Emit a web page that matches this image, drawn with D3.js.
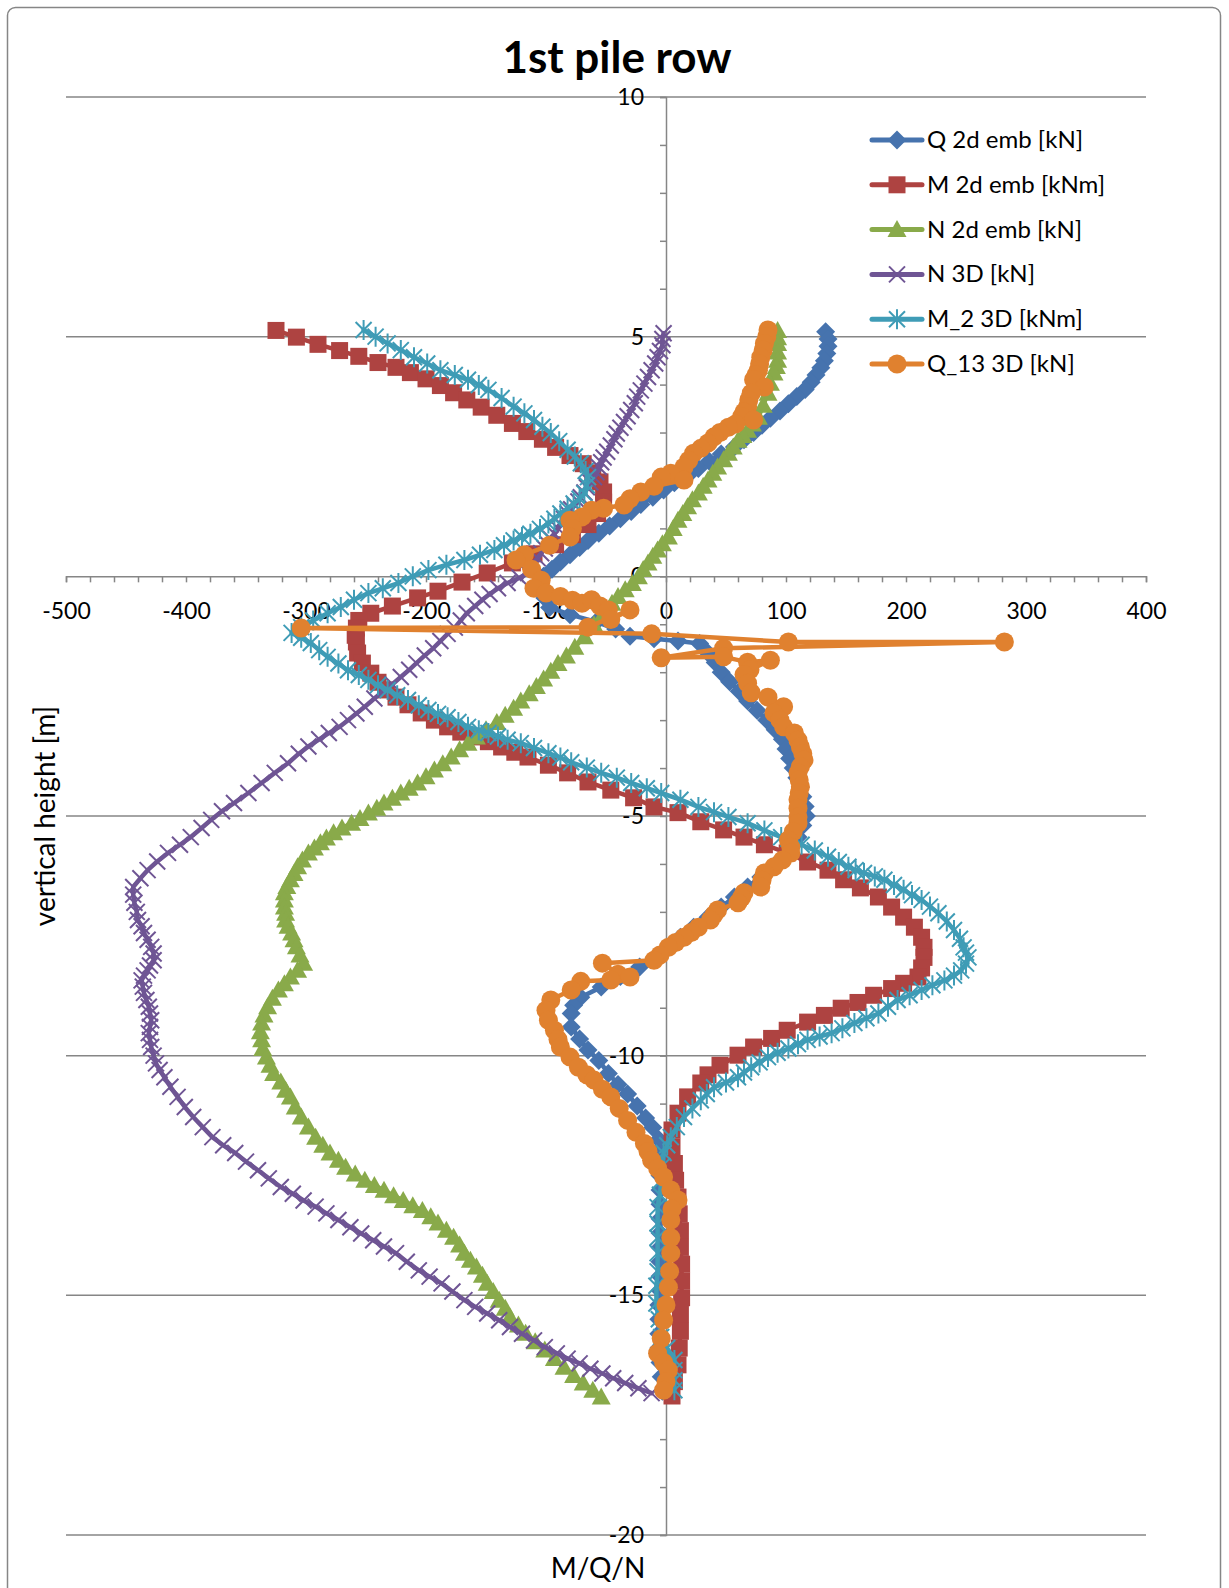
<!DOCTYPE html>
<html>
<head>
<meta charset="utf-8">
<script src="https://cdn.jsdelivr.net/npm/d3@7"></script>
<style>
  body { margin: 0; background: #ffffff; }
  svg { display: block; }
  text { font-family: Lato, "Open Sans", sans-serif; fill: #000; }
</style>
</head>
<body>
<svg id="chart" width="1229" height="1588"></svg>
<script>
// ---- chart data: depth [m] and force / moment values for each result series ----
const seriesNames = ["Q 2d emb [kN]", "M 2d emb [kNm]", "N 2d emb [kN]", "N 3D [kN]", "M_2 3D [kNm]", "Q_13 3D [kN]"];

const qEmbDepth = [5.10,4.95,4.80,4.65,4.50,4.35,4.20,4.05,3.90,3.75,3.60,3.45,3.30,3.15,3.00,2.85,2.70,2.55,2.40,2.25,2.10,1.95,1.80,1.65,1.50,1.35,1.20,1.05,0.90,0.75,0.60,0.45,0.30,0.15,0.00,-0.20,-0.45,-0.65,-0.80,-0.95,-1.10,-1.25,-1.30,-1.35,-1.40,-1.60,-1.80,-2.00,-2.20,-2.40,-2.60,-2.80,-3.00,-3.20,-3.40,-3.60,-3.80,-4.00,-4.20,-4.40,-4.60,-4.80,-5.00,-5.20,-5.44,-5.60,-5.77,-5.92,-6.06,-6.27,-6.48,-6.69,-6.90,-7.11,-7.32,-7.53,-7.74,-7.95,-8.15,-8.35,-8.57,-8.78,-8.95,-9.12,-9.40,-9.65,-9.88,-10.10,-10.37,-10.60,-10.80,-11.05,-11.30,-11.50,-11.75,-11.95,-12.20,-12.50,-12.80,-13.10,-13.40,-13.70,-14.00,-14.30,-14.60,-14.90,-15.20,-15.50,-15.80,-16.10,-16.40,-16.70,-17.00];
const qEmbValue = [133,135,135,134,132,129,125,121,116,109,102,95,87,80,73,65,57,46,36,27,18,7,-2,-11,-21,-29,-38,-47,-56,-65,-72,-80,-88,-95,-102,-104,-101,-97,-80,-58,-42,-30,-10,10,28,35,41,46,53,61,68,76,84,91,97,100,103,106,109,112,114,116,117,114,110,106,101,95,90,79,68,57,46,35,23,12,2,-8,-22,-38,-54,-71,-77,-79,-79,-72,-65,-56,-48,-40,-32,-24,-17,-11,-6,-4,-4,-5,-5,-5,-5,-5,-5,-5,-5,-5,-6,-6,-6,-6,-5,-4,-3];

const mEmbDepth = [5.13,4.99,4.84,4.71,4.59,4.46,4.36,4.25,4.12,3.98,3.83,3.68,3.53,3.36,3.19,3.02,2.86,2.69,2.52,2.35,2.16,1.97,1.76,1.55,1.31,1.08,0.87,0.66,0.47,0.28,0.07,-0.12,-0.31,-0.45,-0.62,-0.77,-0.92,-1.08,-1.23,-1.37,-1.60,-1.81,-2.02,-2.21,-2.37,-2.52,-2.68,-2.85,-3.00,-3.14,-3.25,-3.35,-3.45,-3.56,-3.67,-3.77,-3.94,-4.10,-4.29,-4.46,-4.62,-4.81,-4.93,-5.12,-5.29,-5.44,-5.60,-5.77,-5.96,-6.13,-6.33,-6.50,-6.69,-6.90,-7.11,-7.32,-7.53,-7.74,-7.95,-8.17,-8.36,-8.49,-8.60,-8.74,-8.89,-9.01,-9.16,-9.30,-9.47,-9.64,-9.82,-9.99,-10.20,-10.40,-10.57,-10.86,-11.20,-11.55,-11.90,-12.25,-12.60,-12.95,-13.30,-13.65,-14.00,-14.35,-14.70,-15.05,-15.40,-15.75,-16.10,-16.45,-16.80,-17.10];
const mEmbValue = [-325,-308,-290,-272,-256,-240,-225,-213,-200,-188,-177,-166,-154,-141,-128,-116,-103,-92,-80,-69,-61,-55,-52,-52,-57,-65,-78,-92,-110,-128,-149,-170,-190,-207,-228,-246,-256,-258,-259,-258,-257,-253,-246,-240,-233,-225,-215,-204,-193,-182,-171,-160,-148,-137,-126,-115,-98,-82,-65,-46,-27,-10,10,29,48,65,82,101,118,135,148,162,177,188,198,207,213,215,215,213,210,198,188,173,160,146,132,118,101,88,73,60,45,35,29,18,10,5,5,7,8,10,11,12,12,13,13,13,12,12,11,10,7,5];

const nEmbDepth = [5.13,4.98,4.86,4.68,4.51,4.38,4.24,4.03,3.82,3.57,3.32,3.18,3.05,2.94,2.84,2.70,2.57,2.43,2.28,2.15,2.01,1.88,1.74,1.60,1.45,1.31,1.17,1.00,0.82,0.68,0.55,0.42,0.28,0.14,-0.01,-0.15,-0.28,-0.42,-0.56,-0.77,-1.01,-1.26,-1.48,-1.66,-1.82,-1.98,-2.14,-2.30,-2.45,-2.60,-2.75,-2.90,-3.05,-3.20,-3.35,-3.48,-3.62,-3.77,-3.91,-4.04,-4.18,-4.31,-4.42,-4.52,-4.63,-4.73,-4.84,-4.94,-5.05,-5.15,-5.25,-5.35,-5.46,-5.56,-5.67,-5.77,-5.92,-6.06,-6.20,-6.33,-6.47,-6.60,-6.75,-6.90,-7.03,-7.17,-7.30,-7.44,-7.58,-7.73,-7.90,-8.07,-8.22,-8.36,-8.50,-8.63,-8.80,-8.98,-9.15,-9.32,-9.50,-9.67,-9.85,-10.03,-10.20,-10.37,-10.55,-10.72,-10.86,-11.07,-11.28,-11.49,-11.70,-11.87,-12.03,-12.18,-12.33,-12.47,-12.60,-12.71,-12.81,-12.92,-13.02,-13.13,-13.23,-13.36,-13.49,-13.64,-13.79,-13.95,-14.12,-14.27,-14.41,-14.58,-14.75,-14.92,-15.10,-15.27,-15.45,-15.62,-15.79,-15.97,-16.14,-16.32,-16.50,-16.67,-16.83,-16.98,-17.12];
const nEmbValue = [93,93,93,93,93,92,90,87,85,81,77,72,68,64,60,56,52,48,43,39,35,31,27,22,18,14,10,6,2,-3,-7,-11,-15,-19,-23,-28,-34,-40,-45,-52,-60,-68,-76,-83,-90,-96,-102,-108,-114,-121,-127,-134,-141,-150,-158,-165,-172,-179,-186,-193,-200,-207,-214,-221,-228,-235,-241,-248,-255,-262,-270,-277,-283,-288,-293,-298,-303,-307,-310,-313,-316,-318,-318,-318,-317,-317,-315,-312,-310,-308,-305,-302,-307,-313,-318,-323,-328,-332,-335,-337,-338,-337,-336,-333,-330,-327,-321,-317,-313,-309,-304,-298,-292,-286,-280,-273,-267,-259,-251,-243,-235,-227,-219,-211,-203,-196,-190,-183,-177,-172,-168,-163,-158,-153,-149,-144,-139,-134,-130,-123,-117,-109,-101,-93,-85,-77,-69,-61,-54];

const n3dDepth = [5.07,4.95,4.82,4.70,4.57,4.44,4.30,4.16,4.02,3.88,3.75,3.61,3.47,3.34,3.22,3.10,2.98,2.86,2.73,2.60,2.48,2.38,2.28,2.17,2.07,1.96,1.86,1.75,1.65,1.56,1.48,1.40,1.31,1.20,1.10,1.00,0.89,0.78,0.68,0.58,0.48,0.38,0.27,0.17,0.07,-0.03,-0.14,-0.25,-0.37,-0.49,-0.62,-0.77,-0.92,-1.07,-1.20,-1.35,-1.50,-1.65,-1.81,-1.95,-2.10,-2.25,-2.40,-2.55,-2.72,-2.86,-3.00,-3.14,-3.27,-3.40,-3.55,-3.70,-3.90,-4.10,-4.31,-4.52,-4.73,-4.90,-5.08,-5.25,-5.44,-5.60,-5.77,-5.95,-6.13,-6.30,-6.48,-6.64,-6.81,-7.00,-7.17,-7.30,-7.44,-7.58,-7.73,-7.87,-8.01,-8.12,-8.22,-8.33,-8.43,-8.56,-8.69,-8.84,-8.98,-9.12,-9.26,-9.40,-9.53,-9.67,-9.82,-10.00,-10.16,-10.30,-10.45,-10.65,-10.86,-11.07,-11.28,-11.49,-11.70,-11.87,-12.03,-12.21,-12.39,-12.56,-12.74,-12.88,-13.02,-13.15,-13.29,-13.43,-13.58,-13.71,-13.85,-13.98,-14.12,-14.30,-14.48,-14.61,-14.75,-14.92,-15.10,-15.24,-15.38,-15.52,-15.66,-15.80,-15.94,-16.08,-16.21,-16.32,-16.42,-16.53,-16.63,-16.73,-16.83,-16.94,-17.04];
const n3dValue = [-2,-3,-3,-5,-7,-9,-12,-15,-18,-21,-24,-26,-29,-32,-35,-38,-41,-43,-46,-49,-52,-54,-56,-58,-60,-63,-66,-68,-71,-73,-76,-79,-82,-85,-88,-90,-93,-96,-99,-101,-104,-107,-110,-112,-115,-122,-132,-140,-147,-153,-159,-166,-171,-176,-182,-188,-194,-201,-208,-214,-221,-228,-236,-243,-251,-258,-265,-272,-281,-289,-298,-306,-315,-326,-337,-348,-360,-370,-379,-387,-396,-405,-415,-424,-432,-438,-444,-444,-443,-441,-440,-437,-435,-432,-429,-427,-427,-430,-432,-435,-437,-436,-435,-433,-431,-430,-429,-430,-431,-430,-429,-427,-425,-422,-418,-413,-407,-401,-394,-386,-378,-369,-359,-350,-340,-331,-321,-311,-302,-292,-283,-273,-263,-254,-244,-235,-225,-216,-206,-197,-187,-178,-168,-159,-149,-139,-130,-120,-110,-101,-91,-82,-72,-63,-53,-44,-34,-23,-12];

const m2Depth = [5.14,5.00,4.86,4.72,4.57,4.44,4.30,4.20,4.10,3.99,3.89,3.72,3.54,3.40,3.26,3.12,2.99,2.82,2.64,2.50,2.36,2.20,2.07,1.90,1.73,1.62,1.52,1.41,1.31,1.20,1.10,0.99,0.89,0.82,0.75,0.65,0.55,0.45,0.34,0.24,0.13,0.00,-0.14,-0.25,-0.35,-0.49,-0.64,-0.77,-0.92,-1.06,-1.18,-1.28,-1.39,-1.54,-1.68,-1.82,-1.96,-2.06,-2.16,-2.27,-2.37,-2.48,-2.58,-2.69,-2.79,-2.87,-2.94,-3.04,-3.14,-3.21,-3.27,-3.34,-3.41,-3.48,-3.58,-3.69,-3.78,-3.88,-3.99,-4.10,-4.20,-4.31,-4.42,-4.52,-4.66,-4.81,-4.92,-5.02,-5.15,-5.30,-5.44,-5.52,-5.60,-5.72,-5.85,-5.96,-6.06,-6.13,-6.19,-6.26,-6.33,-6.44,-6.54,-6.65,-6.75,-6.89,-7.03,-7.20,-7.38,-7.56,-7.74,-7.85,-7.95,-8.08,-8.22,-8.33,-8.43,-8.53,-8.63,-8.74,-8.84,-8.98,-9.12,-9.22,-9.32,-9.43,-9.53,-9.60,-9.67,-9.76,-9.85,-9.94,-10.03,-10.14,-10.24,-10.35,-10.45,-10.56,-10.66,-10.80,-10.93,-11.10,-11.28,-11.49,-11.70,-11.87,-12.03,-12.30,-12.60,-12.90,-13.16,-13.50,-13.80,-14.12,-14.50,-14.80,-15.17,-15.50,-15.87,-16.10,-16.35,-16.56,-16.77,-16.98];
const m2Value = [-252,-242,-232,-221,-210,-199,-188,-176,-165,-156,-148,-137,-127,-118,-110,-103,-96,-89,-82,-76,-71,-67,-65,-66,-68,-72,-77,-82,-88,-93,-98,-105,-113,-120,-127,-135,-143,-155,-168,-183,-198,-211,-223,-236,-248,-260,-271,-282,-294,-304,-312,-304,-296,-289,-282,-273,-265,-256,-248,-240,-232,-224,-215,-206,-198,-190,-182,-173,-165,-156,-148,-140,-132,-121,-110,-98,-88,-79,-66,-54,-41,-29,-16,-4,12,27,40,52,68,82,96,104,113,124,135,144,152,158,165,174,182,190,198,205,213,220,227,234,240,245,248,250,252,250,246,240,232,222,213,203,193,185,177,167,157,147,138,128,118,110,102,93,85,78,71,65,60,50,40,34,29,22,15,9,4,1,-2,-3,-4,-5,-7,-7,-7,-7,-7,-8,-8,-6,-4,1,7,7,7,7];

const q13Depth = [5.14,5.00,4.86,4.72,4.57,4.43,4.30,4.20,4.10,3.95,3.82,3.68,3.54,3.43,3.33,3.26,3.18,3.11,3.00,2.91,2.78,2.67,2.57,2.42,2.28,2.15,2.07,2.01,1.88,1.76,1.62,1.49,1.42,1.38,1.24,1.17,1.00,0.82,0.65,0.45,0.34,0.15,-0.08,-0.25,-0.35,-0.42,-0.50,-0.56,-0.49,-0.62,-0.70,-0.90,-0.70,-1.06,-1.08,-1.20,-1.37,-1.37,-1.50,-1.70,-1.68,-1.79,-1.75,-1.95,-2.05,-2.23,-2.43,-2.52,-2.72,-2.85,-3.00,-3.14,-3.27,-3.42,-3.56,-3.70,-3.83,-3.97,-4.10,-4.25,-4.39,-4.52,-4.66,-4.84,-5.02,-5.15,-5.33,-5.50,-5.65,-5.77,-5.92,-6.06,-6.19,-6.34,-6.48,-6.60,-6.70,-6.81,-6.96,-7.06,-7.17,-7.32,-7.43,-7.53,-7.64,-7.74,-7.90,-8.01,-8.07,-8.30,-8.36,-8.42,-8.45,-8.63,-8.84,-9.05,-9.26,-9.47,-9.66,-9.82,-10.03,-10.24,-10.40,-10.51,-10.70,-10.86,-11.10,-11.35,-11.60,-11.83,-12.00,-12.18,-12.35,-12.53,-12.80,-13.01,-13.20,-13.43,-13.80,-14.12,-14.50,-14.83,-15.20,-15.52,-15.90,-16.21,-16.40,-16.56,-16.80,-16.98];
const q13Value = [85,84,82,81,79,78,77,75,73,82,71,69,68,65,63,73,58,52,45,40,35,29,23,19,15,4,-4,15,-10,-21,-30,-35,-52,-62,-70,-80,-78,-80,-97,-118,-125,-112,-104,-110,-100,-88,-78,-70,-62,-55,-48,-46,-30,-65,-304,-12,102,282,48,-4,48,68,87,70,65,68,71,85,98,90,95,98,107,110,112,114,115,112,110,111,112,111,110,110,110,110,106,102,104,104,97,90,82,80,79,65,63,60,43,40,37,27,21,15,8,2,-5,-10,-53,-40,-30,-46,-71,-79,-96,-100,-98,-93,-90,-88,-80,-73,-66,-60,-53,-46,-39,-32,-25,-18,-15,-12,-7,-2,4,10,5,4,4,4,3,2,0,-2,-4,-7,-2,2,0,-2];

// ---- axis tick values ----
const xTickLabels = [-500, -400, -300, -200, -100, 0, 100, 200, 300, 400];
const yTickLabels = [10, 5, 0, -5, -10, -15, -20];

// ---- drawing ----
const svg = d3.select("#chart");
const x = d3.scaleLinear().domain([-500, 400]).range([66, 1146]);
const y = d3.scaleLinear().domain([-20, 10]).range([1535, 97]);
const axisColor = "#868686";

// chart frame
svg.append("rect")
  .attr("x", 7.5).attr("y", 7.5).attr("width", 1213).attr("height", 1620)
  .attr("rx", 8).attr("fill", "#fff").attr("stroke", axisColor).attr("stroke-width", 1.5);

// title
svg.append("text").attr("x", 617).attr("y", 73).attr("text-anchor", "middle")
  .style("font-size", "44px").style("font-weight", "bold").text("1st pile row");

// horizontal gridlines at labelled depths (0 is the value axis itself)
svg.append("g").selectAll("line").data(yTickLabels.filter(v => v !== 0)).join("line")
  .attr("x1", x(-500)).attr("x2", x(400)).attr("y1", d => y(d)).attr("y2", d => y(d))
  .attr("stroke", axisColor).attr("stroke-width", 1.5);

// labels use a plain hyphen for negative numbers
const plain = d => String(d);

// horizontal value axis drawn through depth 0
const xAxis = d3.axisBottom(x)
  .tickValues(d3.range(-500, 401, 20))
  .tickSize(6).tickPadding(20)
  .tickFormat(d => (xTickLabels.includes(d) ? plain(d) : ""));
const gx = svg.append("g").attr("transform", `translate(0,${y(0)})`).call(xAxis);
gx.select(".domain").attr("stroke", axisColor).attr("stroke-width", 1.5);
gx.selectAll(".tick line").attr("stroke", axisColor).attr("stroke-width", 1.5);
gx.selectAll(".tick text").style("font-size", "23px").style("font-family", "Lato, sans-serif").attr("fill", "#000");

// vertical depth axis drawn through value 0
const yAxis = d3.axisLeft(y)
  .tickValues(d3.range(-20, 11, 1))
  .tickSize(6).tickPadding(16)
  .tickFormat(d => (yTickLabels.includes(d) ? plain(d) : ""));
const gy = svg.append("g").attr("transform", `translate(${x(0)},0)`).call(yAxis);
gy.select(".domain").attr("stroke", axisColor).attr("stroke-width", 1.5);
gy.selectAll(".tick line").attr("stroke", axisColor).attr("stroke-width", 1.5);
gy.selectAll(".tick text").style("font-size", "23px").style("font-family", "Lato, sans-serif").attr("fill", "#000");

// axis titles
svg.append("text").attr("transform", "translate(55,816) rotate(-90)").attr("text-anchor", "middle")
  .style("font-size", "28px").text("vertical height [m]");
svg.append("text").attr("x", 598).attr("y", 1578).attr("text-anchor", "middle")
  .style("font-size", "28px").text("M/Q/N");

// marker shapes
function markerPath(kind) {
  switch (kind) {
    case "diamond": return "M0,-9.5L9.5,0L0,9.5L-9.5,0Z";
    case "square": return "M-8.5,-8.5H8.5V8.5H-8.5Z";
    case "triangle": return "M0,-9.5L9.5,7.5L-9.5,7.5Z";
    case "x": return "M-8,-8L8,8M8,-8L-8,8";
    case "star": return "M-8,-8L8,8M8,-8L-8,8M0,-10V10";
    default: return d3.symbol(d3.symbolCircle, Math.PI * 9.5 * 9.5)();
  }
}
const filledKinds = new Set(["diamond", "square", "triangle", "circle"]);

const seriesList = [
  { name: seriesNames[0], depth: qEmbDepth, value: qEmbValue, color: "#4673AE", kind: "diamond" },
  { name: seriesNames[1], depth: mEmbDepth, value: mEmbValue, color: "#AE4341", kind: "square" },
  { name: seriesNames[2], depth: nEmbDepth, value: nEmbValue, color: "#89AA4A", kind: "triangle" },
  { name: seriesNames[3], depth: n3dDepth, value: n3dValue, color: "#6F5594", kind: "x" },
  { name: seriesNames[4], depth: m2Depth, value: m2Value, color: "#3F9CB6", kind: "star" },
  { name: seriesNames[5], depth: q13Depth, value: q13Value, color: "#E0812F", kind: "circle" }
];

const line = d3.line().x(d => x(d[1])).y(d => y(d[0]));

seriesList.forEach(s => {
  const pts = d3.zip(s.depth, s.value);
  const g = svg.append("g");
  g.append("path").attr("d", line(pts)).attr("fill", "none")
    .attr("stroke", s.color).attr("stroke-width", 4.5)
    .attr("stroke-linejoin", "round").attr("stroke-linecap", "round");
  const filled = filledKinds.has(s.kind);
  g.selectAll("path.mk").data(pts).join("path").attr("class", "mk")
    .attr("d", markerPath(s.kind))
    .attr("transform", d => `translate(${x(d[1])},${y(d[0])})`)
    .attr("fill", filled ? s.color : "none")
    .attr("stroke", filled ? "none" : s.color)
    .attr("stroke-width", filled ? 0 : 2);
});

// legend
const legend = svg.append("g");
seriesList.forEach((s, i) => {
  const cy = 140 + i * 44.8;
  const row = legend.append("g").attr("transform", `translate(0,${cy})`);
  row.append("line").attr("x1", 872).attr("x2", 922).attr("y1", 0).attr("y2", 0)
    .attr("stroke", s.color).attr("stroke-width", 5).attr("stroke-linecap", "round");
  const filled = filledKinds.has(s.kind);
  row.append("path").attr("d", markerPath(s.kind)).attr("transform", "translate(897,0)")
    .attr("fill", filled ? s.color : "none").attr("stroke", filled ? "none" : s.color)
    .attr("stroke-width", filled ? 0 : 2);
  row.append("text").attr("x", 927).attr("y", 8).style("font-size", "24px").text(s.name);
});
</script>
</body>
</html>
